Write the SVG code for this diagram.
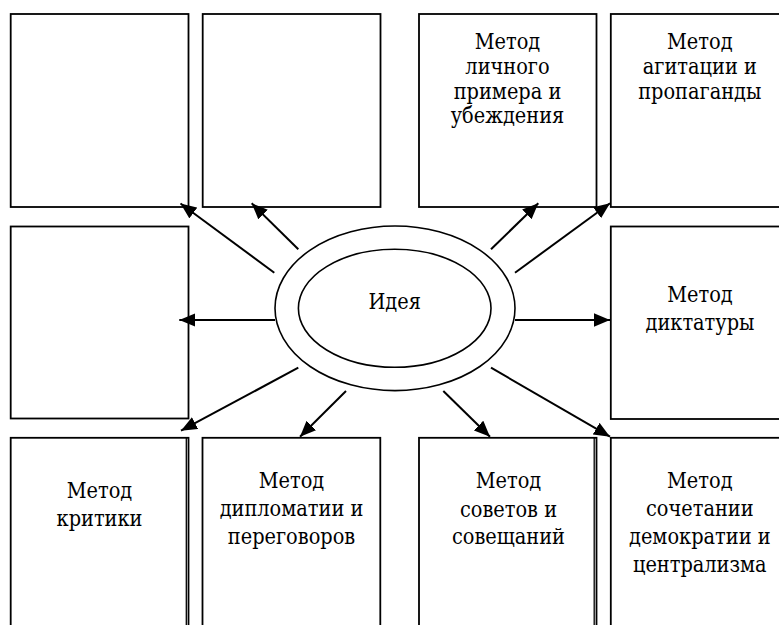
<svg xmlns="http://www.w3.org/2000/svg" width="779" height="625" viewBox="0 0 779 625">
<style>
.box{fill:#fff;stroke:#000;stroke-width:1.8}
.t{font-family:"DejaVu Serif Condensed","DejaVu Serif",serif;font-stretch:condensed;font-size:21.5px;fill:#000;text-anchor:middle}
.c{stroke:#000;stroke-width:2;fill:none;marker-end:url(#ah)}
.e{fill:#fff;stroke:#000;stroke-width:1.6}
</style>
<defs>
<marker id="ah" markerUnits="userSpaceOnUse" markerWidth="17" markerHeight="14" refX="16" refY="6.75" orient="auto">
<path d="M0,0 L16,6.75 L0,13.5 Z" fill="#000"/>
</marker>
</defs>
<rect width="779" height="625" fill="#fff"/>
<g id="n1"><rect class="box" x="10.7" y="14" width="177.8" height="193"/></g>
<g id="n2"><rect class="box" x="202.7" y="14" width="177.8" height="193"/></g>
<g id="n3"><rect class="box" x="419" y="14" width="177.5" height="193"/>
<text class="t" x="507.5" y="49.3">Метод</text>
<text class="t" x="507.5" y="74">личного</text>
<text class="t" x="507.5" y="98.7">примера и</text>
<text class="t" x="507.5" y="123.3">убеждения</text></g>
<g id="n4"><rect class="box" x="610.8" y="14" width="178" height="193"/>
<text class="t" x="699.8" y="49.3">Метод</text>
<text class="t" x="699.8" y="74">агитации и</text>
<text class="t" x="699.8" y="98.7">пропаганды</text></g>
<g id="n5"><rect class="box" x="10.7" y="226.5" width="177.8" height="192"/></g>
<g id="n6"><rect class="box" x="610.8" y="226.5" width="178" height="192.5"/>
<text class="t" x="700" y="301.7">Метод</text>
<text class="t" x="700" y="330">диктатуры</text></g>
<g id="n7"><rect class="box" x="10.7" y="437.8" width="177.8" height="200"/>
<line x1="186.3" y1="437.8" x2="186.3" y2="625" stroke="#000" stroke-width="1.3"/>
<text class="t" x="99.5" y="498.3">Метод</text>
<text class="t" x="99.5" y="526">критики</text></g>
<g id="n8"><rect class="box" x="202.5" y="437.8" width="177.8" height="200"/>
<text class="t" x="291.5" y="487.7">Метод</text>
<text class="t" x="291.5" y="516">дипломатии и</text>
<text class="t" x="291.5" y="544">переговоров</text></g>
<g id="n9"><rect class="box" x="419" y="437.8" width="177.5" height="200"/>
<line x1="594.2" y1="437.8" x2="594.2" y2="625" stroke="#000" stroke-width="1.3"/>
<text class="t" x="508.5" y="488.3">Метод</text>
<text class="t" x="508.5" y="516.7">советов и</text>
<text class="t" x="508.5" y="544">совещаний</text></g>
<g id="n10"><rect class="box" x="610.8" y="437.8" width="178" height="200"/>
<text class="t" x="699.8" y="488.3">Метод</text>
<text class="t" x="699.8" y="516">сочетании</text>
<text class="t" x="699.8" y="544">демократии и</text>
<text class="t" x="699.8" y="571.7">централизма</text></g>
<g id="connectors">
<line class="c" x1="274.3" y1="272.7" x2="180.5" y2="203.5"/>
<line class="c" x1="298.3" y1="249.3" x2="251.7" y2="203.3"/>
<line class="c" x1="491" y1="249.3" x2="538.3" y2="203.3"/>
<line class="c" x1="515" y1="272.7" x2="610" y2="203.3"/>
<line class="c" x1="275" y1="320" x2="179.3" y2="320"/>
<line class="c" x1="515" y1="320" x2="610" y2="320"/>
<line class="c" x1="298.3" y1="367.7" x2="181" y2="430.7"/>
<line class="c" x1="346" y1="391" x2="300" y2="436.7"/>
<line class="c" x1="443.3" y1="391" x2="490" y2="436.7"/>
<line class="c" x1="491" y1="367.7" x2="610" y2="436.7"/>
</g>
<g id="idea">
<ellipse class="e" cx="395" cy="308.3" rx="120" ry="82.3"/>
<ellipse class="e" cx="394.7" cy="308.3" rx="96.3" ry="59"/>
<text class="t" x="394.7" y="309">Идея</text>
</g>
</svg>
